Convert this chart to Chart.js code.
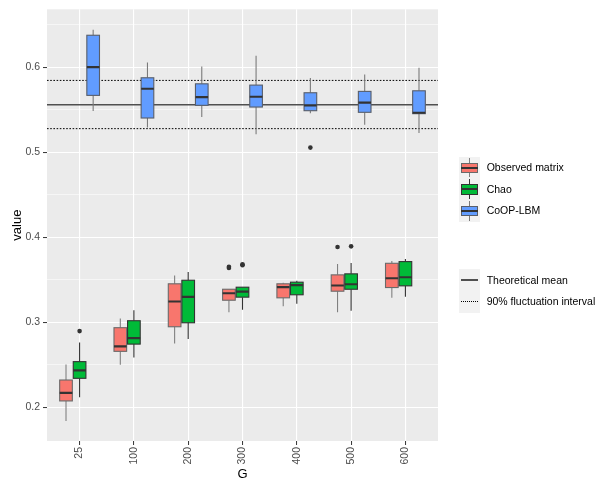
<!DOCTYPE html>
<html>
<head>
<meta charset="utf-8">
<script src="https://cdn.jsdelivr.net/npm/chart.js@4/dist/chart.umd.min.js"></script>
<style>
  html, body { margin: 0; padding: 0; background: #ffffff; }
  #wrap { position: relative; width: 597px; height: 481px; font-family: "Liberation Sans", Arial, sans-serif; }
  canvas { position: absolute; left: 0; top: 0; }
  .lg { position: absolute; font-size: 10.5px; color: #000; line-height: 12px; white-space: nowrap; }
  .keybg { position: absolute; background: #F2F2F2; }
  .kwhisk { position: absolute; width: 1px; }
  .kbox { position: absolute; box-sizing: border-box; }
  .kmed { position: absolute; height: 2px; background: #333; }
  .kline { position: absolute; }
</style>
</head>
<body>
<div id="wrap">
  <canvas id="c" width="597" height="481"></canvas>
  <div id="legend"></div>
</div>
<script>
// ---- data ----
const categories = ['25', '100', '200', '300', '400', '500', '600'];
const seriesNames = ['Observed matrix', 'Chao', 'CoOP-LBM'];

const observedLow    = [0.184, 0.250, 0.275, 0.312, 0.319, 0.312, 0.329];
const observedQ1     = [0.2076, 0.2659, 0.2948, 0.3260, 0.3288, 0.3366, 0.3409];
const observedMedian = [0.2170, 0.2717, 0.3245, 0.3342, 0.3413, 0.3433, 0.3518];
const observedQ3     = [0.2322, 0.2937, 0.3453, 0.3389, 0.3453, 0.3558, 0.3694];
const observedHigh   = [0.2503, 0.3046, 0.3550, 0.3389, 0.3465, 0.3687, 0.3722];
const observedOutliers = [[], [], [], [0.3640, 0.3652], [], [0.3886], []];

const chaoLow    = [0.2119, 0.2588, 0.2803, 0.3148, 0.3218, 0.3136, 0.3300];
const chaoQ1     = [0.2342, 0.2744, 0.2995, 0.3296, 0.3324, 0.3389, 0.3429];
const chaoMedian = [0.2436, 0.2815, 0.3300, 0.3362, 0.3437, 0.3448, 0.3530];
const chaoQ3     = [0.2538, 0.3019, 0.3495, 0.3413, 0.3472, 0.3570, 0.3714];
const chaoHigh   = [0.2764, 0.3143, 0.3593, 0.3413, 0.3488, 0.3699, 0.3745];
const chaoOutliers = [[0.2897], [], [], [0.3672, 0.3682], [], [0.3893], []];

const coopLow    = [0.5484, 0.5289, 0.5414, 0.5211, 0.5457, 0.5324, 0.5226];
const coopQ1     = [0.5668, 0.5402, 0.5551, 0.5531, 0.5488, 0.5469, 0.5453];
const coopMedian = [0.6000, 0.5746, 0.5648, 0.5652, 0.5551, 0.5582, 0.5464];
const coopQ3     = [0.6375, 0.5875, 0.5804, 0.5789, 0.5699, 0.5715, 0.5722];
const coopHigh   = [0.6440, 0.6055, 0.6008, 0.6133, 0.5871, 0.5914, 0.5992];
const coopOutliers = [[], [], [], [], [0.5054], [], []];

const theoreticalMean = 0.5558;
const fluctuationLow = 0.5277;
const fluctuationHigh = 0.5844;

const yTickValues = [0.2, 0.3, 0.4, 0.5, 0.6];

// ---- styling ----
const fills = ['#F8766D', '#00BA38', '#619CFF'];
const borders = ['#6a6a6a', '#333333', '#585e6a'];
const whiskerCols = ['#808080', '#333333', '#7a7a7a'];
const dodge = [-0.25, 0, 0.25];
const boxWidth = 0.233;

const boxSeries = [
  { low: observedLow, q1: observedQ1, med: observedMedian, q3: observedQ3, high: observedHigh, out: observedOutliers },
  { low: chaoLow, q1: chaoQ1, med: chaoMedian, q3: chaoQ3, high: chaoHigh, out: chaoOutliers },
  { low: coopLow, q1: coopQ1, med: coopMedian, q3: coopQ3, high: coopHigh, out: coopOutliers }
];

const XMIN = -0.6, XMAX = categories.length - 1 + 0.6;

function hline(v) { return [{ x: XMIN, y: v }, { x: XMAX, y: v }]; }

const outlierPoints = [];
boxSeries.forEach((s, si) => {
  s.out.forEach((arr, i) => arr.forEach(v => outlierPoints.push({ x: i + dodge[si], y: v })));
});

const panelBg = {
  id: 'panelBg',
  beforeDraw(chart) {
    const a = chart.chartArea, ctx = chart.ctx;
    ctx.save();
    ctx.fillStyle = '#EBEBEB';
    ctx.fillRect(a.left, a.top, a.right - a.left, a.bottom - a.top);
    ctx.restore();
  }
};

const boxPlot = {
  id: 'boxPlot',
  afterDatasetsDraw(chart) {
    const ctx = chart.ctx, xs = chart.scales.x, ys = chart.scales.y, a = chart.chartArea;
    const half = (xs.getPixelForValue(boxWidth) - xs.getPixelForValue(0)) / 2;
    ctx.save();
    ctx.beginPath();
    ctx.rect(a.left, a.top, a.right - a.left, a.bottom - a.top);
    ctx.clip();
    boxSeries.forEach((s, si) => {
      categories.forEach((c, i) => {
        const xc = xs.getPixelForValue(i + dodge[si]);
        const yLow = ys.getPixelForValue(s.low[i]);
        const yQ1 = ys.getPixelForValue(s.q1[i]);
        const yMed = ys.getPixelForValue(s.med[i]);
        const yQ3 = ys.getPixelForValue(s.q3[i]);
        const yHigh = ys.getPixelForValue(s.high[i]);
        ctx.strokeStyle = whiskerCols[si];
        ctx.lineWidth = 1.1;
        ctx.beginPath();
        ctx.moveTo(xc, yLow); ctx.lineTo(xc, yQ1);
        ctx.moveTo(xc, yQ3); ctx.lineTo(xc, yHigh);
        ctx.stroke();
        ctx.fillStyle = fills[si];
        ctx.fillRect(xc - half, yQ3, 2 * half, yQ1 - yQ3);
        ctx.strokeStyle = borders[si];
        ctx.lineWidth = 1.1;
        ctx.strokeRect(xc - half, yQ3, 2 * half, yQ1 - yQ3);
        ctx.strokeStyle = '#333333';
        ctx.lineWidth = 2.2;
        ctx.beginPath();
        ctx.moveTo(xc - half, yMed); ctx.lineTo(xc + half, yMed);
        ctx.stroke();
      });
    });
    ctx.restore();
  }
};

const isMajor = v => Math.abs(Math.round(v * 100) % 10) === 0;

new Chart(document.getElementById('c'), {
  type: 'scatter',
  data: {
    datasets: [
      { type: 'line', data: hline(theoreticalMean), borderColor: '#505050', borderWidth: 1.4, pointRadius: 0, fill: false },
      { type: 'line', data: hline(fluctuationHigh), borderColor: '#000000', borderWidth: 1, borderDash: [1.6, 1.6], pointRadius: 0, fill: false },
      { type: 'line', data: hline(fluctuationLow), borderColor: '#000000', borderWidth: 1, borderDash: [1.6, 1.6], pointRadius: 0, fill: false },
      { type: 'scatter', data: outlierPoints, pointRadius: 2.3, pointBackgroundColor: '#333333', pointBorderWidth: 0, borderColor: '#333333' }
    ]
  },
  options: {
    responsive: false,
    animation: false,
    events: [],
    layout: { padding: { left: 0, top: 8, right: 159, bottom: 0 } },
    plugins: { legend: { display: false }, tooltip: { enabled: false } },
    scales: {
      x: {
        type: 'linear',
        min: XMIN, max: XMAX,
        afterFit(scale) { scale.height = 40; },
        border: { display: false },
        grid: {
          color: '#FFFFFF', lineWidth: 1.1, drawTicks: true, tickLength: 4,
          tickColor: '#333333', tickWidth: 1
        },
        ticks: {
          stepSize: 1, includeBounds: false, autoSkip: false,
          minRotation: 90, maxRotation: 90, padding: 2,
          color: '#4D4D4D', font: { family: '"Liberation Sans", Arial, sans-serif', size: 10.5 },
          callback: v => categories[Math.round(v)] ?? ''
        },
        title: { display: true, text: 'G', color: '#000000', padding: { top: 0, bottom: 0 },
                 font: { family: '"Liberation Sans", Arial, sans-serif', size: 13, lineHeight: 1 } }
      },
      y: {
        type: 'linear',
        min: 0.1605, max: 0.668,
        afterFit(scale) { scale.width = 47; },
        border: { display: false },
        grid: {
          color: '#FFFFFF',
          lineWidth: ctx => (ctx.tick && isMajor(ctx.tick.value)) ? 1.1 : 0.55,
          drawTicks: true, tickLength: 4,
          tickColor: ctx => (ctx.tick && isMajor(ctx.tick.value)) ? '#333333' : 'rgba(0,0,0,0)',
          tickWidth: 1
        },
        ticks: {
          stepSize: 0.05, includeBounds: false, autoSkip: false, padding: 3,
          color: '#4D4D4D', font: { family: '"Liberation Sans", Arial, sans-serif', size: 10.5 },
          callback: v => {
            const r = Math.round(v * 100) / 100;
            return yTickValues.some(t => Math.abs(t - r) < 1e-6) ? r.toFixed(1) : '';
          }
        },
        title: { display: true, text: 'value', color: '#000000', padding: { top: 10.5, bottom: 0 },
                 font: { family: '"Liberation Sans", Arial, sans-serif', size: 13, lineHeight: 1 } }
      }
    }
  },
  plugins: [panelBg, boxPlot]
});

// ---- legend (HTML) ----
(function buildLegend() {
  const lg = document.getElementById('legend');
  const add = (cls, style, text) => {
    const d = document.createElement('div');
    d.className = cls;
    Object.assign(d.style, style);
    if (text) d.textContent = text;
    lg.appendChild(d);
    return d;
  };
  const keyX = 458.5, keyW = 21.5, rowH = 21.7;
  let top = 156.7;
  add('keybg', { left: keyX + 'px', top: top + 'px', width: keyW + 'px', height: (rowH * 3) + 'px' });
  seriesNames.forEach((name, i) => {
    const rt = top + i * rowH;
    const cx = keyX + keyW / 2;
    add('kwhisk', { left: (cx - 0.5) + 'px', top: (rt + 1) + 'px', height: (rowH - 2) + 'px', background: whiskerCols[i] });
    add('kbox', { left: (keyX + 2.2) + 'px', top: (rt + 5.8) + 'px', width: (keyW - 4.4) + 'px', height: '10.4px',
                  background: fills[i], border: '1px solid ' + borders[i] });
    add('kmed', { left: (keyX + 2.2) + 'px', top: (rt + rowH / 2 - 1) + 'px', width: (keyW - 4.4) + 'px' });
    add('lg', { left: '486.7px', top: (rt + rowH / 2 - 6.5) + 'px' }, name);
  });
  top = 269.3;
  add('keybg', { left: keyX + 'px', top: top + 'px', width: keyW + 'px', height: (rowH * 2) + 'px' });
  add('kline', { left: (keyX + 2.2) + 'px', top: (top + rowH / 2 - 0.7) + 'px', width: (keyW - 4.4) + 'px', height: '1.4px', background: '#505050' });
  add('kline', { left: (keyX + 2.2) + 'px', top: (top + rowH * 1.5 - 0.5) + 'px', width: (keyW - 4.4) + 'px', height: '0px',
                 borderTop: '1px dotted #000000' });
  add('lg', { left: '486.7px', top: (top + rowH / 2 - 6.5) + 'px' }, 'Theoretical mean');
  add('lg', { left: '486.7px', top: (top + rowH * 1.5 - 6.5) + 'px' }, '90% fluctuation interval');
})();
</script>
</body>
</html>
